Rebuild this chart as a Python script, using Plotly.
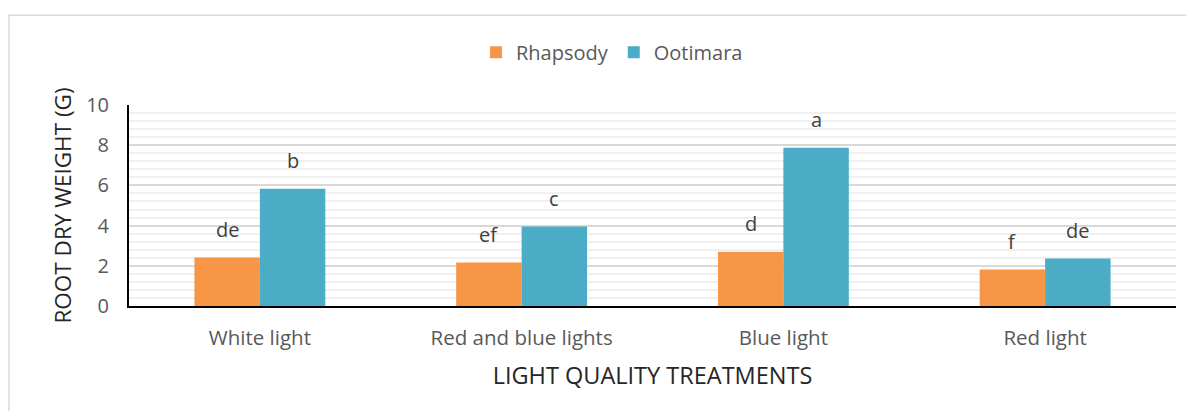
import plotly.graph_objects as go

categories = ["White light", "Red and blue lights", "Blue light", "Red light"]
rhapsody = [2.41, 2.16, 2.70, 1.81]
ootimara = [5.83, 3.95, 7.87, 2.36]
rhapsody_letters = ["de", "ef", "d", "f"]
ootimara_letters = ["b", "c", "a", "de"]
y_ticks = [0, 2, 4, 6, 8, 10]

OFF = 8  # page body margin
W, H = 1194 - 2 * OFF, 419 - 2 * OFF
# plot area in reference pixel coordinates
PX0, PX1, PY0, PY1 = 129, 1176, 105, 306.5
L = PX0 - OFF
R = W - (PX1 - OFF)
T = PY0 - OFF
B = H - (PY1 - OFF)
pw, ph = W - L - R, H - T - B

FONT = "Open Sans"
fig = go.Figure()
fig.add_trace(go.Bar(x=categories, y=rhapsody, name="Rhapsody",
                     marker=dict(color="#F79646", line=dict(width=0))))
fig.add_trace(go.Bar(x=categories, y=ootimara, name="Ootimara",
                     marker=dict(color="#4BACC6", line=dict(width=0))))

bar_px = pw / 4 * 0.5 / 2
annotations = []
for cat, v, t in zip(categories, rhapsody, rhapsody_letters):
    annotations.append(dict(x=cat, y=v, text=t, xshift=-bar_px / 2, yshift=13,
                            yanchor="bottom", showarrow=False,
                            font=dict(size=20, color="#404040", family=FONT)))
for cat, v, t in zip(categories, ootimara, ootimara_letters):
    annotations.append(dict(x=cat, y=v, text=t, xshift=bar_px / 2, yshift=13,
                            yanchor="bottom", showarrow=False,
                            font=dict(size=20, color="#404040", family=FONT)))


def px_x(p):
    return (p - OFF - L) / pw


def px_y(p):
    return (H - B - (p - OFF)) / ph


fig.update_layout(
    width=W, height=H,
    margin=dict(l=L, r=R, t=T, b=B, autoexpand=False),
    paper_bgcolor="white", plot_bgcolor="white",
    barmode="group", bargap=0.5, bargroupgap=0,
    font=dict(family=FONT, color="#595959", size=20),
    legend=dict(orientation="h", x=px_x(612), xanchor="center",
                y=px_y(52), yanchor="middle",
                font=dict(size=20, color="#595959", family=FONT),
                traceorder="normal"),
    annotations=annotations,
    shapes=[dict(type="rect", xref="paper", yref="paper",
                 x0=px_x(9), x1=px_x(1230), y0=px_y(460), y1=px_y(15),
                 line=dict(color="#d9d9d9", width=1.5), layer="below")],
    xaxis=dict(showline=True, linecolor="#000000", linewidth=2,
               ticks="", ticklabelstandoff=12,
               tickfont=dict(size=20.5, color="#595959", family=FONT),
               title=dict(text="LIGHT QUALITY TREATMENTS", standoff=18,
                          font=dict(size=23.5, color="#262626", family=FONT))),
    yaxis=dict(range=[0, 10], tickvals=y_ticks, showline=True,
               linecolor="#000000", linewidth=2,
               showgrid=True, gridcolor="#d9d9d9", gridwidth=2,
               minor=dict(dtick=0.4, showgrid=True, gridcolor="#f0f0f0", gridwidth=2),
               ticks="", ticklabelstandoff=14, zeroline=False,
               tickfont=dict(size=20, color="#595959", family=FONT),
               title=dict(text="ROOT DRY WEIGHT (G)", standoff=8,
                          font=dict(size=22.5, color="#262626", family=FONT))),
)

fig.write_html("out.html")
